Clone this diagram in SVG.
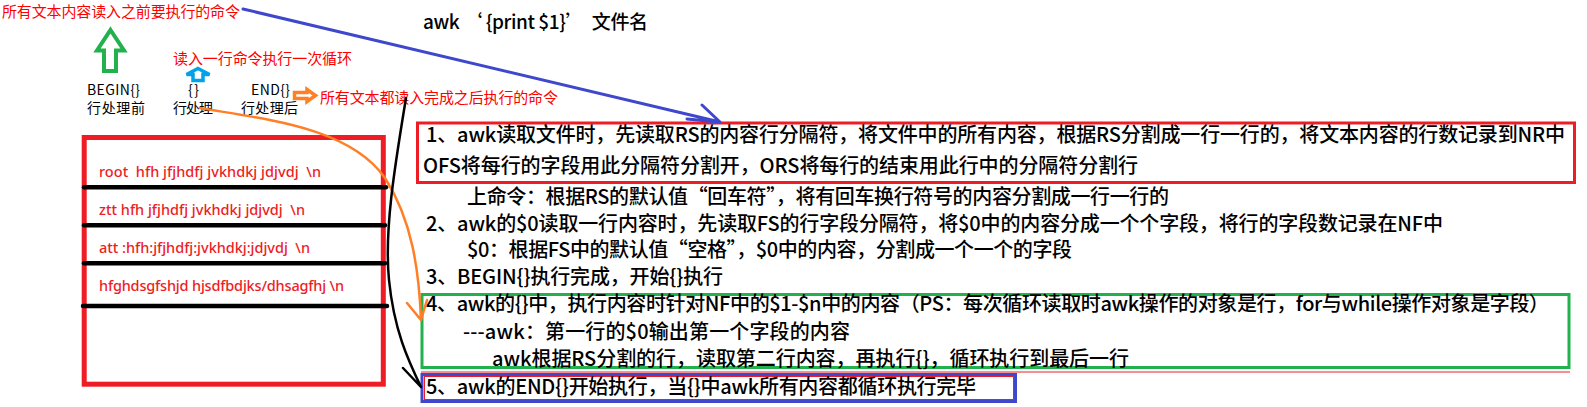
<svg xmlns="http://www.w3.org/2000/svg" width="1587" height="407" viewBox="0 0 1587 407">
<style>
text{white-space:pre}
.red{fill:#ff0000;font-family:"Noto Sans CJK SC","Liberation Sans",sans-serif;font-size:15px}
.lbl{fill:#000;font-family:"Noto Sans CJK SC","Liberation Sans",sans-serif;font-size:14px}
.row{fill:#ee1c24;font-family:"Noto Sans","Liberation Sans",sans-serif;font-size:14.5px;font-weight:500}
.txt{fill:#000;font-family:"Noto Sans CJK SC","Liberation Sans",sans-serif;font-size:20px;font-weight:500}
.title{fill:#000;font-family:"Noto Sans CJK SC","Liberation Sans",sans-serif;font-size:19px;font-weight:500}
.conn{fill:none;stroke-linecap:round;stroke-linejoin:round}
</style>
<rect width="1587" height="407" fill="#fff"/>

<g id="title"><text class="title" x="423" y="29" textLength="225">awk ‘ {print $1}’  文件名</text></g>

<g id="note-begin"><text class="red" x="2" y="17" textLength="238">所有文本内容读入之前要执行的命令</text></g>
<g id="note-loop"><text class="red" x="173" y="64" textLength="179">读入一行命令执行一次循环</text></g>
<g id="note-end"><text class="red" x="320" y="103" textLength="238">所有文本都读入完成之后执行的命令</text></g>

<g id="begin">
<path d="M110.5,30 L124,50.5 L116,50.5 L116,71 L104,71 L104,50.5 L97,50.5 Z" fill="#fff" stroke="#22b14c" stroke-width="4" stroke-linejoin="miter"/>
<text class="lbl" x="87" y="95" textLength="53">BEGIN{}</text>
<text class="lbl" x="87" y="113" textLength="58">行处理前</text>
</g>
<g id="body">
<path d="M198,68.5 L209.5,74.5 L203,74.5 L203,80.5 L193,80.5 L193,74.5 L186.5,74.5 Z" fill="#fff" stroke="#00a2e8" stroke-width="3.5" stroke-linejoin="miter"/>
<text class="lbl" x="188" y="95" textLength="11">{}</text>
<text class="lbl" x="173" y="113" textLength="40">行处理</text>
</g>
<g id="end">
<path d="M294.5,92.5 L307,92.5 L307,89.5 L315.5,95.5 L307,101.5 L307,98.5 L294.5,98.5 Z" fill="#fff" stroke="#ff7f27" stroke-width="3.5" stroke-linejoin="miter"/>
<text class="lbl" x="251" y="95" textLength="39">END{}</text>
<text class="lbl" x="241" y="113" textLength="57">行处理后</text>
</g>

<g id="file">
<rect x="84.2" y="137.5" width="299.1" height="246.7" fill="none" stroke="#ee1c24" stroke-width="5"/>
<g stroke="#000" stroke-width="4.5" stroke-linecap="round">
<line x1="84" y1="187.3" x2="386" y2="187.3"/>
<line x1="84" y1="225.3" x2="385" y2="225.3"/>
<line x1="84" y1="263.3" x2="385" y2="263.3"/>
<line x1="83" y1="306" x2="387" y2="306"/>
</g>
<text class="row" x="99" y="177" textLength="222">root  hfh jfjhdfj jvkhdkj jdjvdj  \n</text>
<text class="row" x="99" y="215" textLength="206">ztt hfh jfjhdfj jvkhdkj jdjvdj  \n</text>
<text class="row" x="99" y="253" textLength="211">att :hfh:jfjhdfj:jvkhdkj:jdjvdj  \n</text>
<text class="row" x="99" y="291" textLength="245">hfghdsgfshjd hjsdfbdjks/dhsagfhj \n</text>
</g>

<g id="step1">
<rect x="417.5" y="123" width="1157" height="59.5" fill="none" stroke="#ee1c24" stroke-width="3"/>
<text class="txt" x="426" y="142" textLength="1139">1、awk读取文件时，先读取RS的内容行分隔符，将文件中的所有内容，根据RS分割成一行一行的，将文本内容的行数记录到NR中</text>
<text class="txt" x="423" y="173" textLength="715">OFS将每行的字段用此分隔符分割开，ORS将每行的结束用此行中的分隔符分割行</text>
<text class="txt" x="467" y="204" textLength="702">上命令：根据RS的默认值“回车符”，将有回车换行符号的内容分割成一行一行的</text>
</g>
<g id="step2">
<text class="txt" x="426" y="231" textLength="1017">2、awk的$0读取一行内容时，先读取FS的行字段分隔符，将$0中的内容分成一个个字段，将行的字段数记录在NF中</text>
<text class="txt" x="467" y="257" textLength="605">$0：根据FS中的默认值“空格”，$0中的内容，分割成一个一个的字段</text>
</g>
<g id="step3">
<text class="txt" x="426" y="284" textLength="297">3、BEGIN{}执行完成，开始{}执行</text>
</g>
<g id="step4">
<line x1="421" y1="372" x2="1570" y2="372" stroke="#ee1c24" stroke-width="1"/>
<rect x="422" y="294.5" width="1147" height="73" fill="none" stroke="#22b14c" stroke-width="3"/>
<text class="txt" x="426" y="311" textLength="1123">4、awk的{}中，执行内容时针对NF中的$1-$n中的内容（PS：每次循环读取时awk操作的对象是行，for与while操作对象是字段）</text>
<text class="txt" x="463" y="339" textLength="387">---awk：第一行的$0输出第一个字段的内容</text>
<text class="txt" x="492" y="366" textLength="637">awk根据RS分割的行，读取第二行内容，再执行{}，循环执行到最后一行</text>
</g>
<g id="step5">
<rect x="422" y="374.5" width="593.5" height="27" fill="none" stroke="#3f48cc" stroke-width="3"/>
<rect x="424.5" y="376.5" width="589" height="23" fill="none" stroke="#ee1c24" stroke-width="1"/>
<text class="txt" x="426" y="394" textLength="550">5、awk的END{}开始执行，当{}中awk所有内容都循环执行完毕</text>
</g>

<g id="connectors">
<path class="conn" d="M243,9 L720,122 M702,105 L720,122 M687,119 L718,122" stroke="#3f48cc" stroke-width="3"/>
<path class="conn" d="M200,108 C270,120 350,128 385,178 C412,220 419,270 421,320 M407,303 L421,320 L427,300" stroke="#ff7f27" stroke-width="2.5"/>
<path class="conn" d="M406,98 C395,165 384,230 389,280 C394,330 408,360 421,387 M403,368 L421,387" stroke="#000" stroke-width="2.5"/>
</g>
</svg>
